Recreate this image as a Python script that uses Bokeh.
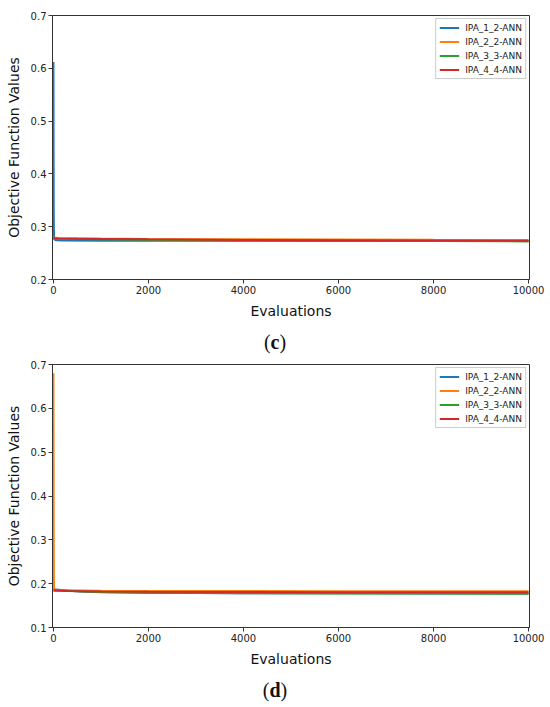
from bokeh.plotting import figure
from bokeh.models import Range1d, FixedTicker, Div
from bokeh.layouts import column
from bokeh.embed import file_html
from bokeh.resources import INLINE

# ---------------- data ----------------
series_names = ["IPA_1_2-ANN", "IPA_2_2-ANN", "IPA_3_3-ANN", "IPA_4_4-ANN"]
series_colors = ["#1f77b4", "#ff7f0e", "#2ca02c", "#d62728"]

x_ticks = [0, 2000, 4000, 6000, 8000, 10000]
y_ticks_c = [0.2, 0.3, 0.4, 0.5, 0.6, 0.7]
y_ticks_d = [0.1, 0.2, 0.3, 0.4, 0.5, 0.6, 0.7]

# panel (c)
x_spike = [0, 3, 6, 10, 15, 25, 50, 200, 1000, 3000, 6000, 10000]
x_smooth = [0, 100, 500, 1000, 2000, 4000, 6000, 8000, 10000]

c_ipa_1_2 = [0.612, 0.45, 0.33, 0.29, 0.279, 0.2755, 0.2745, 0.2738, 0.2735, 0.2733, 0.2731, 0.2730]
c_ipa_2_2 = [0.2790, 0.2786, 0.2781, 0.2776, 0.2769, 0.2761, 0.2756, 0.2752, 0.2750]
c_ipa_3_3 = [0.2772, 0.2770, 0.2766, 0.2760, 0.2751, 0.2740, 0.2732, 0.2727, 0.2722]
c_ipa_4_4 = [0.2780, 0.2778, 0.2774, 0.2769, 0.2760, 0.2750, 0.2743, 0.2738, 0.2735]

# panel (d)
x_smooth_d = [0, 100, 300, 600, 1000, 2000, 4000, 6000, 8000, 10000]

d_ipa_1_2 = [0.1870, 0.1860, 0.1840, 0.1820, 0.1805, 0.1790, 0.1782, 0.1780, 0.1778, 0.1776]
d_ipa_2_2 = [0.680, 0.50, 0.30, 0.20, 0.188, 0.1855, 0.1850, 0.1848, 0.1840, 0.1832, 0.1828, 0.1825]
d_ipa_3_3 = [0.1855, 0.1850, 0.1840, 0.1822, 0.1808, 0.1792, 0.1782, 0.1777, 0.1774, 0.1772]
d_ipa_4_4 = [0.1840, 0.1838, 0.1833, 0.1828, 0.1822, 0.1815, 0.1810, 0.1806, 0.1804, 0.1802]

FONT = "DejaVu Sans"
W = 548


def make_panel(xs_list, ys_list, y_lo, y_hi, y_ticks, height, top):
    p = figure(width=W, height=height, output_backend="svg", toolbar_location=None,
               x_range=Range1d(-20, 10020), y_range=Range1d(y_lo, y_hi),
               min_border_left=52, min_border_right=W - 529, min_border_top=top,
               min_border_bottom=41)
    p.background_fill_color = "white"
    p.border_fill_color = "white"
    p.outline_line_color = "#333333"
    p.outline_line_width = 1
    p.grid.visible = False
    for xs, ys, name, col in zip(xs_list, ys_list, series_names, series_colors):
        p.line(xs, ys, line_color=col, line_width=2, legend_label=name)

    p.xaxis.ticker = FixedTicker(ticks=x_ticks, minor_ticks=[])
    p.yaxis.ticker = FixedTicker(ticks=y_ticks, minor_ticks=[])
    p.xaxis.axis_label = "Evaluations"
    p.yaxis.axis_label = "Objective Function Values"
    for ax in (p.xaxis, p.yaxis):
        ax.axis_label_text_font = FONT
        ax.axis_label_text_font_size = "14px"
        ax.axis_label_text_font_style = "normal"
        ax.axis_label_text_color = "#111111"
        ax.axis_label_standoff = 6
        ax.major_label_text_font = FONT
        ax.major_label_text_font_size = "10px"
        ax.major_label_text_color = "#222222"
        ax.major_label_standoff = 2
        ax.major_tick_in = 0
        ax.major_tick_out = 4
        ax.major_tick_line_color = "#333333"
        ax.minor_tick_line_color = None
        ax.axis_line_color = "#333333"

    lg = p.legend[0]
    lg.location = "top_right"
    lg.margin = 3
    lg.padding = 3
    lg.spacing = 3
    lg.glyph_width = 20
    lg.glyph_height = 11
    lg.label_height = 11
    lg.label_standoff = 6
    lg.label_text_font = FONT
    lg.label_text_font_size = "9px"
    lg.label_text_color = "#222222"
    lg.border_line_color = "#999999"
    lg.border_line_width = 1
    lg.background_fill_alpha = 0.9
    return p


def caption(letter):
    html = ('<div style="width:550px;text-align:center;font-family:\'Liberation Serif\',serif;'
            'font-size:20px;line-height:22px;padding-top:10px;color:#111">(<b>%s</b>)</div>' % letter)
    return Div(text=html, width=W, height=36, margin=0)


pc = make_panel([x_spike, x_smooth, x_smooth, x_smooth],
                [c_ipa_1_2, c_ipa_2_2, c_ipa_3_3, c_ipa_4_4],
                0.2, 0.7, y_ticks_c, 321, 15)
pd_ = make_panel([x_smooth_d, x_spike, x_smooth_d, x_smooth_d],
                 [d_ipa_1_2, d_ipa_2_2, d_ipa_3_3, d_ipa_4_4],
                 0.1, 0.7, y_ticks_d, 312, 7)

layout = column(pc, caption("c"), pd_, caption("d"), spacing=0)

open("out.html", "w").write(file_html(layout, INLINE))
